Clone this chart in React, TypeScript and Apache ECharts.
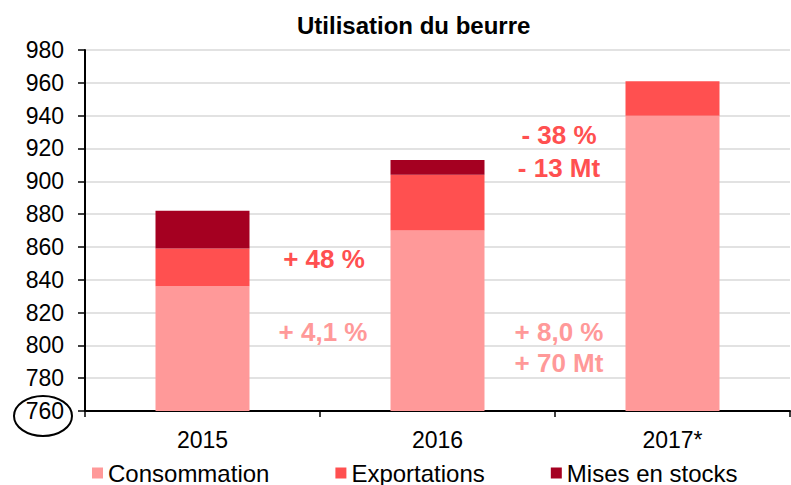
import React, { useEffect, useRef } from "react";
import * as echarts from "echarts";

const categories = ["2015", "2016", "2017*"];
const consommation = [836, 870, 940];
const exportations = [23, 34, 21];
const stocks = [23, 9, 0];
const yTicks = { min: 760, max: 980, interval: 20 };

const FONT = "Liberation Sans, Arial, sans-serif";

export default function App() {
  const ref = useRef<HTMLDivElement>(null);
  useEffect(() => {
    if (!ref.current) return;
    const chart = echarts.init(ref.current, null, { renderer: "svg" });
    const barCommon = { type: "bar", stack: "total", barWidth: "40%" };
    const ann = (text: string, x: number, y: number, color: string) => ({
      type: "text",
      x,
      y,
      style: { text, font: `bold 26px ${FONT}`, fill: color, align: "center", verticalAlign: "middle" },
    });
    chart.setOption({
      animation: false,
      title: {
        text: "Utilisation du beurre",
        left: 292,
        top: 8,
        textStyle: { fontFamily: FONT, fontSize: 24, fontWeight: "bold", color: "#000" },
      },
      grid: { left: 85, right: 1, top: 50, bottom: 74, containLabel: false },
      legend: {
        left: 92,
        top: 461,
        padding: 0,
        itemWidth: 11,
        itemHeight: 11,
        itemGap: 66,
        icon: "rect",
        textStyle: { fontFamily: FONT, fontSize: 24, lineHeight: 24, color: "#000" },
        data: ["Consommation", "Exportations", "Mises en stocks"],
      },
      xAxis: {
        type: "category",
        data: categories,
        axisLine: { lineStyle: { color: "#000", width: 2 } },
        axisTick: { show: true, length: 6, lineStyle: { color: "#000", width: 1.5 } },
        axisLabel: { fontFamily: FONT, fontSize: 23, color: "#000", margin: 17 },
      },
      yAxis: {
        type: "value",
        min: yTicks.min,
        max: yTicks.max,
        interval: yTicks.interval,
        axisLine: { show: true, lineStyle: { color: "#000", width: 2 } },
        axisTick: { show: true, length: 7, lineStyle: { color: "#000", width: 1.5 } },
        axisLabel: { fontFamily: FONT, fontSize: 23, color: "#000", margin: 21 },
        splitLine: { lineStyle: { color: "#d9d9d9", width: 1.5 } },
      },
      series: [
        { ...barCommon, name: "Consommation", data: consommation, itemStyle: { color: "#FF9999" } },
        { ...barCommon, name: "Exportations", data: exportations, itemStyle: { color: "#FF5050" } },
        { ...barCommon, name: "Mises en stocks", data: stocks, itemStyle: { color: "#A50021" } },
      ],
      graphic: [
        {
          type: "ellipse",
          shape: { cx: 43, cy: 416, rx: 29, ry: 20 },
          style: { fill: "none", stroke: "#000", lineWidth: 2 },
        },
        ann("+ 48 %", 324, 259, "#FF5050"),
        ann("+ 4,1 %", 323, 332, "#FF9999"),
        ann("+ 8,0 %", 559, 332, "#FF9999"),
        ann("+ 70 Mt", 559, 363, "#FF9999"),
        ann("- 38 %", 559, 135, "#FF5050"),
        ann("- 13 Mt", 559, 168, "#FF5050"),
      ],
    });
    return () => chart.dispose();
  }, []);
  return <div ref={ref} style={{ width: 791, height: 485, position: "absolute", left: 0, top: 0 }} />;
}
